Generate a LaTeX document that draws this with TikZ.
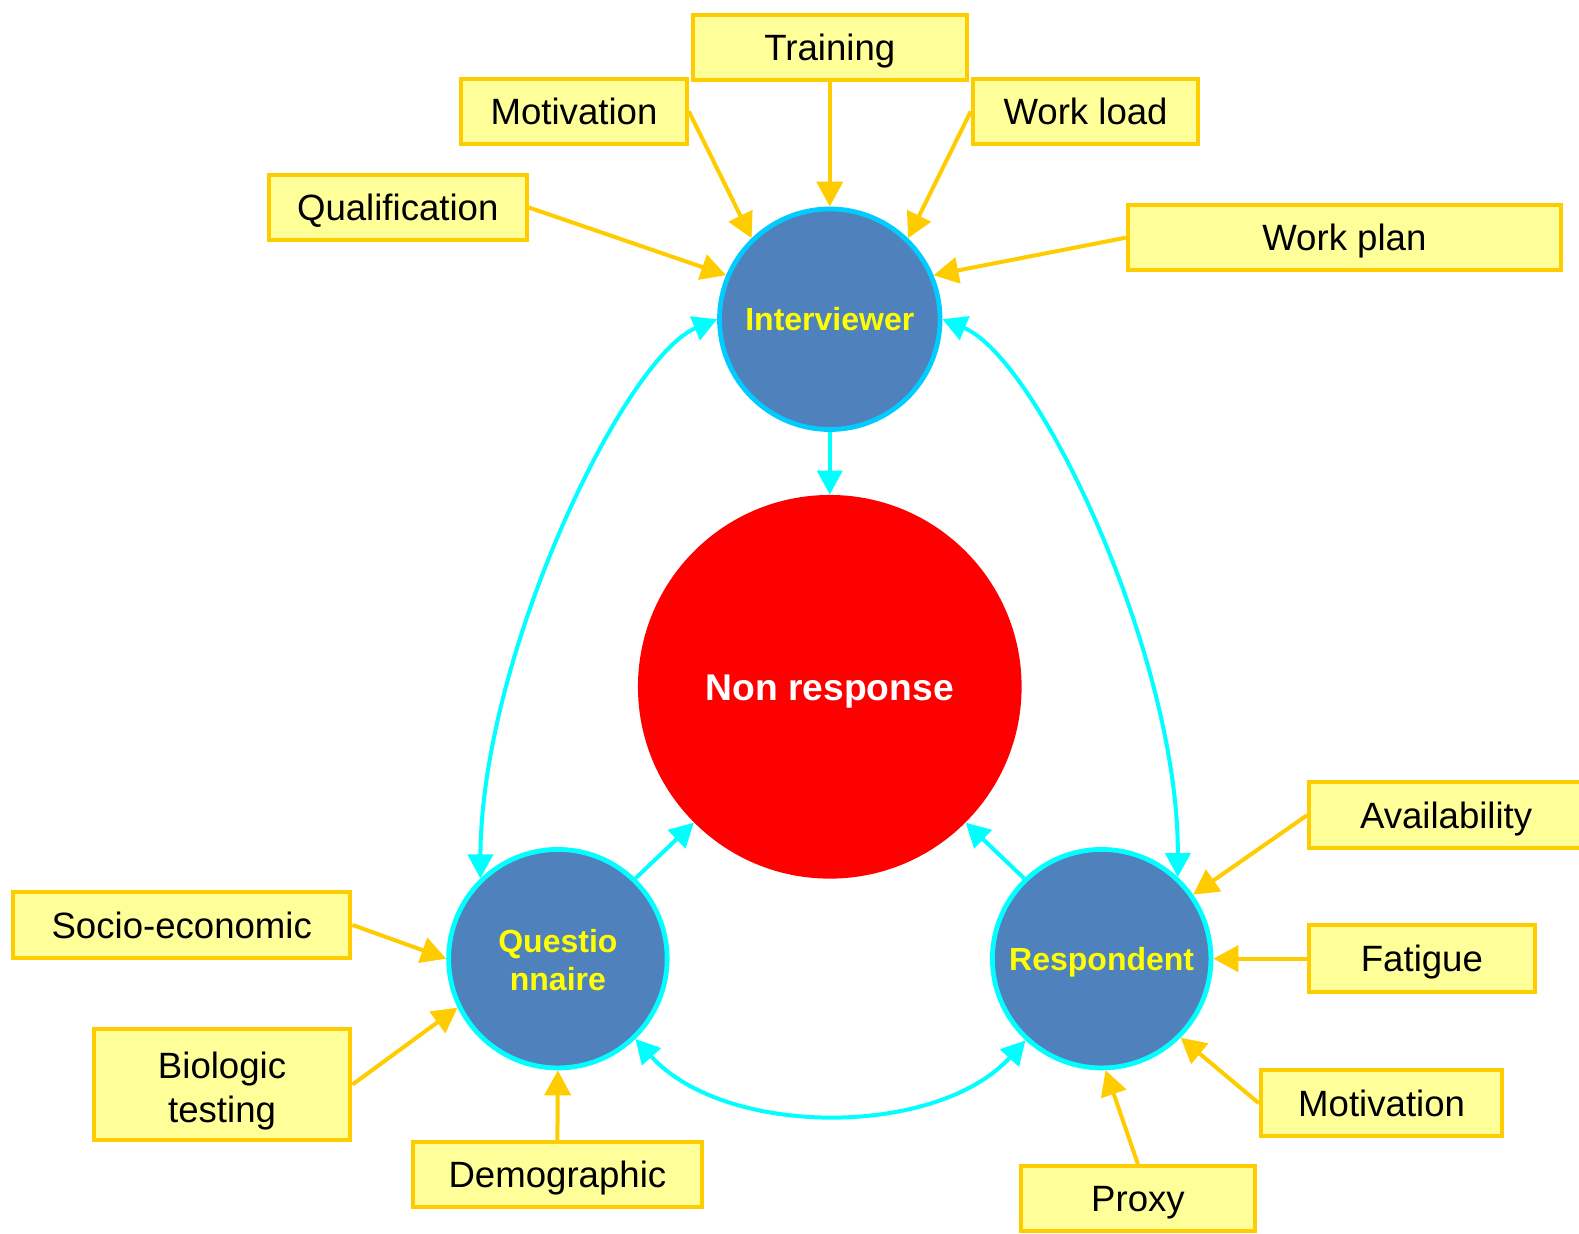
\documentclass[tikz,border=0pt]{standalone}
\usepackage{fontspec}
\setmainfont{Liberation Sans}
\usetikzlibrary{arrows.meta}
\definecolor{boxfill}{HTML}{FFFF99}
\definecolor{gold}{HTML}{FFCC00}
\definecolor{nodeblue}{HTML}{4F81BD}
\definecolor{cyanA}{HTML}{00FFFF}
\definecolor{cyanB}{HTML}{00CCFF}
\definecolor{txtyellow}{HTML}{FFFF00}
\begin{document}
\begin{tikzpicture}[x=0.5035pt,y=-0.5035pt,
  lbl/.style={draw=gold, line width=2pt, fill=boxfill, inner sep=0pt,
    font=\fontsize{18.3}{22}\selectfont, text height=13.1pt, text depth=0pt},
  hub/.style={circle, fill=nodeblue, draw=cyanA, line width=2.4pt, inner sep=0pt,
    minimum size={217*0.5035pt}, text=txtyellow,
    font=\bfseries\fontsize{16}{19}\selectfont, text height=11.5pt, text depth=0pt},
  yarr/.style={draw=gold, line width=2pt, -{Triangle[length=12.5pt,width=13pt]}},
  carr/.style={draw=cyanA, line width=2pt, -{Triangle[length=12pt,width=12.5pt]}},
  cdbl/.style={draw=cyanA, line width=2pt,
    {Triangle[length=12pt,width=12.5pt]}-{Triangle[length=12pt,width=12.5pt]}}]
\useasboundingbox (0,0) rectangle (1568,1225);

% central nodes
\node[circle, fill=red, inner sep=0pt, minimum size={381*0.5035pt}, text=white,
  font=\bfseries\fontsize{18.6}{22}\selectfont, text height=13.3pt, text depth=0pt]
  (nr) at (824,682) {Non response};
\node[hub, draw=cyanB, minimum size={219*0.5035pt}] (int) at (824,317) {Interviewer};
\node[hub, align=center, text height=32pt] (q) at (554,952) {Questio\\nnaire};
\node[hub] (r) at (1094,952) {Respondent};

% label boxes
\node[lbl, minimum width={272*0.5035pt}, minimum height={64*0.5035pt}] (train) at (824,47) {Training};
\node[lbl, minimum width={224*0.5035pt}, minimum height={65*0.5035pt}] (moti) at (570,110.5) {Motivation};
\node[lbl, minimum width={224*0.5035pt}, minimum height={65*0.5035pt}] (wload) at (1078,110.5) {Work load};
\node[lbl, minimum width={256*0.5035pt}, minimum height={64*0.5035pt}] (qual) at (395,206) {Qualification};
\node[lbl, minimum width={430*0.5035pt}, minimum height={64*0.5035pt}] (wplan) at (1335,236) {Work plan};
\node[lbl, minimum width={282*0.5035pt}, minimum height={65*0.5035pt}] (avail) at (1441,809.5) {Availability\hspace*{5pt}};
\node[lbl, minimum width={224*0.5035pt}, minimum height={66*0.5035pt}] (fat) at (1412,952) {Fatigue};
\node[lbl, minimum width={240*0.5035pt}, minimum height={65*0.5035pt}] (motr) at (1372,1095.5) {Motivation};
\node[lbl, minimum width={232*0.5035pt}, minimum height={64*0.5035pt}] (proxy) at (1130,1190) {Proxy};
\node[lbl, minimum width={335*0.5035pt}, minimum height={65*0.5035pt}] (socio) at (180.5,918.5) {Socio-economic};
\node[lbl, align=center, text height=37.6pt, minimum width={255*0.5035pt}, minimum height={110*0.5035pt}] (bio) at (220.5,1077) {Biologic\\testing};
\node[lbl, minimum width={287*0.5035pt}, minimum height={65*0.5035pt}] (demo) at (553.5,1166.5) {Demographic};

% yellow arrows
\draw[yarr] (train.south) -- (int.90);
\draw[yarr] (moti.east) -- (int.134);
\draw[yarr] (wload.west) -- (int.46);
\draw[yarr] (qual.east) -- (int.157);
\draw[yarr] (wplan.west) -- (int.23);
\draw[yarr] (avail.west) -- (r.35);
\draw[yarr] (fat.west) -- (r.0);
\draw[yarr] (motr.west) -- (r.315);
\draw[yarr] (proxy.north) -- (r.272);
\draw[yarr] (socio.east) -- (q.180);
\draw[yarr] (bio.east) -- (q.206);
\draw[yarr] (demo.north) -- (q.270);

% cyan arrows
\draw[carr] (int.270) -- (nr.90);
\draw[carr] (q.46) -- (nr.225);
\draw[carr] (r.134) -- (nr.315);
\draw[cdbl] (int.180) .. controls (620,355) and (478,650) .. (q.134);
\draw[cdbl] (int.0) .. controls (1030,355) and (1170,650) .. (r.47);
\draw[cdbl] (q.314) .. controls (720,1130) and (930,1130) .. (r.227);
\end{tikzpicture}
\end{document}
